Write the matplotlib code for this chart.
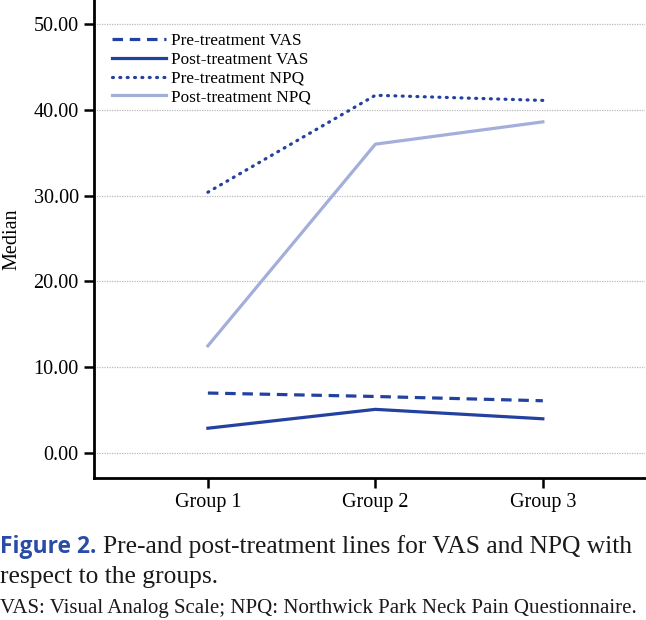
import matplotlib
matplotlib.use("Agg")
import matplotlib.pyplot as plt

groups = ["Group 1", "Group 2", "Group 3"]
pre_vas = [7.0, 6.6, 6.1]
post_vas = [2.9, 5.1, 4.0]
pre_npq = [30.4, 41.7, 41.1]
post_npq = [12.5, 36.0, 38.6]
yticks = [0, 10, 20, 30, 40, 50]

plt.rcParams['font.family'] = ['Liberation Serif', 'DejaVu Serif']

fig = plt.figure(figsize=(6.46, 6.20), dpi=100)
ax = fig.add_axes([94/646, 1-478/620, 551/646, 478/620])

x = list(range(1, len(groups) + 1))
dark = '#2341A0'
ax.plot(x, pre_vas, color=dark, lw=2.3, ls=(0, (3.3, 2.1)), label='Pre-treatment VAS')
ax.plot(x, post_vas, color=dark, lw=2.3, ls='-', label='Post-treatment VAS')
ax.plot(x, pre_npq, color=dark, lw=2.3, ls=(0, (0.3, 2.0)), dash_capstyle='round', label='Pre-treatment NPQ')
ax.plot(x, post_npq, color='#A3AEDB', lw=2.3, ls='-', label='Post-treatment NPQ')

ax.set_xlim(0.32, 3.61)
ax.set_ylim(-2.9, 52.8)
ax.set_xticks(x)
ax.set_xticklabels(groups, fontsize=14.5)
ax.set_yticks(yticks)
ax.set_yticklabels([f"{v:.2f}" for v in yticks], fontsize=14.5)
ax.yaxis.grid(True, color='#BBBBBB', ls=(0, (1, 1)), lw=0.9)
ax.set_axisbelow(True)
for s in ['top', 'right']:
    ax.spines[s].set_visible(False)
for s in ['left', 'bottom']:
    ax.spines[s].set_linewidth(2)
ax.tick_params(axis='both', direction='out', length=7, width=1.8, pad=4)
ax.set_ylabel('Median', fontsize=14.5)
ax.yaxis.set_label_coords((21 - 94) / 551, 0.5)

leg = fig.legend(loc='upper left', bbox_to_anchor=(112/646, 1-33/620), frameon=False,
                 fontsize=12.4, handlelength=3.15, handletextpad=0.25, labelspacing=0.16,
                 borderpad=0, borderaxespad=0)

blue = '#2B4CA6'
fig.canvas.draw()
r = fig.canvas.get_renderer()
t1 = fig.text(0.0, 1-553/620, 'Figure 2.', fontsize=16.5, color=blue, fontweight='bold',
              family=['Open Sans', 'DejaVu Sans'])
bb = t1.get_window_extent(renderer=r)
fig.text(bb.x1/646 + 0.011, 1-553/620, 'Pre-and post-treatment lines for VAS and NPQ with',
         fontsize=18.4, color='#1A1A1A')
fig.text(0.0, 1-583/620, 'respect to the groups.', fontsize=18.4, color='#1A1A1A')
fig.text(0.0, 1-613/620, 'VAS: Visual Analog Scale; NPQ: Northwick Park Neck Pain Questionnaire.',
         fontsize=15, color='#1A1A1A')

fig.savefig('out.png', dpi=100)
